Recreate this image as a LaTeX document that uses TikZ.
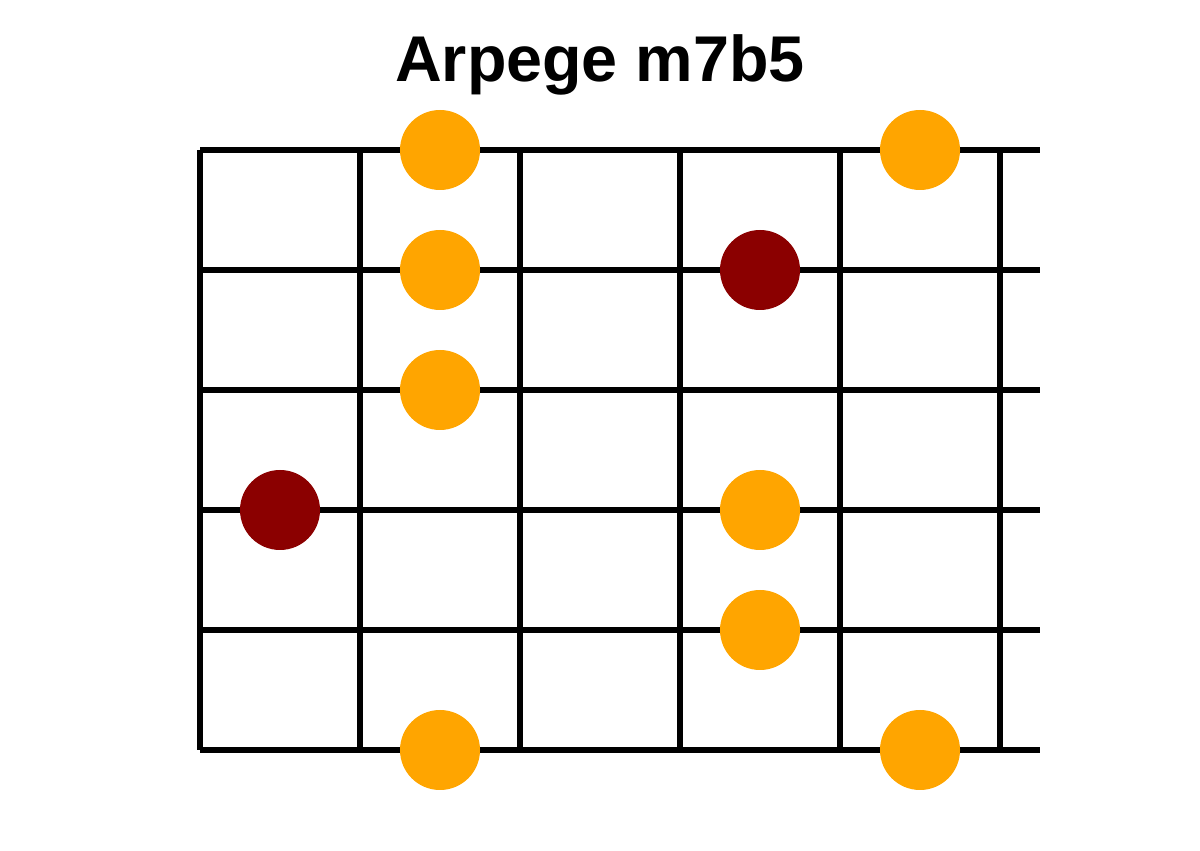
\documentclass[tikz,border=0pt]{standalone}
\usepackage{fontspec}
\setmainfont{Liberation Sans}
\usetikzlibrary{positioning}

\definecolor{dotorange}{HTML}{FFA500}
\definecolor{dotred}{HTML}{8B0000}

\begin{document}
\begin{tikzpicture}[
		fret_line/.style={draw=black, line width=4.5pt},
		string_line/.style={draw=black, line width=4.5pt},
		% Dot Styles
		note_dot/.style={circle, fill=dotorange, minimum size=2cm, inner sep=0pt},
		root_dot/.style={circle, fill=dotred, minimum size=2cm, inner sep=0pt}
		]
		
		\useasboundingbox (0,0) rectangle (30,21.25);
		
		% --- TITLE ---
		\node[anchor=base, font=\bfseries\fontsize{46}{54}\selectfont] (Title) at (15,19.2) {Arpege m7b5};
		
		% --- STRINGS ---
		\foreach \y in {2.5,5.5,8.5,11.5,14.5,17.5}
		\draw[string_line] (5,\y) -- (26,\y);
		
		% --- FRETS ---
		\foreach \x in {5,9,13,17,21,25}
		\draw[fret_line] (\x,2.5) -- (\x,17.5);
		
		% --- NOTES ---
		\node[note_dot] (N1) at (11,17.5) {};
		\node[note_dot] (N2) at (23,17.5) {};
		\node[note_dot] (N3) at (11,14.5) {};
		\node[root_dot] (R1) at (19,14.5) {};
		\node[note_dot] (N4) at (11,11.5) {};
		\node[root_dot] (R2) at (7,8.5) {};
		\node[note_dot] (N5) at (19,8.5) {};
		\node[note_dot] (N6) at (19,5.5) {};
		\node[note_dot] (N7) at (11,2.5) {};
		\node[note_dot] (N8) at (23,2.5) {};
		
	\end{tikzpicture}
\end{document}
